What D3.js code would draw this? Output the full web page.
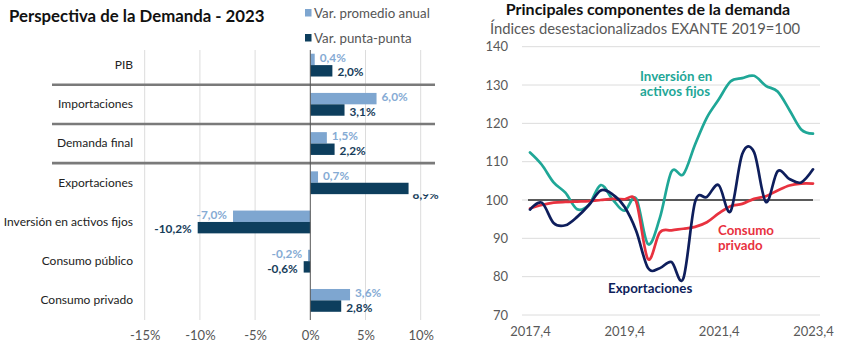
<!DOCTYPE html>
<html><head><meta charset="utf-8">
<script src="https://cdn.jsdelivr.net/npm/d3@7"></script>
<style>
html,body{margin:0;padding:0;background:#fff;}
svg{display:block;font-family:Lato,"Open Sans",sans-serif;}
</style></head>
<body>
<svg id="c" width="848" height="351"></svg>
<script>
// ---------- Left chart data ----------
const barCategories = ["PIB","Importaciones","Demanda final","Exportaciones","Inversión en activos fijos","Consumo  público","Consumo privado"];
const promedioAnual = [0.4, 6.0, 1.5, 0.7, -7.0, -0.2, 3.6];
const puntaPunta    = [2.0, 3.1, 2.2, 8.9, -10.2, -0.6, 2.8];
const barTicks = [-15, -10, -5, 0, 5, 10];
const barSeriesNames = ["Var. promedio anual", "Var. punta-punta"];

// ---------- Right chart data ----------
const quarters = ["2017,4","2018,1","2018,2","2018,3","2018,4","2019,1","2019,2","2019,3","2019,4",
  "2020,1","2020,2","2020,3","2020,4","2021,1","2021,2","2021,3","2021,4",
  "2022,1","2022,2","2022,3","2022,4","2023,1","2023,2","2023,3","2023,4"];
const inversion = [112.4,109.2,104.6,101.9,97.6,98.8,103.9,100.2,97.2,100.4,88.5,95.2,107.4,106.7,114.5,121.5,126.2,130.9,131.8,132.4,129.8,128.3,123.5,118.4,117.3];
const consumoPrivado = [97.8,98.7,99.3,99.5,99.6,99.7,100.0,100.3,100.2,99.6,84.6,91.5,92.1,92.5,93.0,94.2,96.5,98.4,99.0,100.3,101.0,102.5,103.8,104.3,104.3];
const exportaciones = [97.5,99.3,94.0,93.4,95.6,98.7,102.5,101.5,98.3,92.0,82.3,82.2,83.8,79.5,99.5,100.8,103.9,97.0,112.0,112.5,99.5,107.5,105.5,104.6,108.0];
const lineTicks = [70,80,90,100,110,120,130,140];
const xTickLabels = ["2017,4","2019,4","2021,4","2023,4"];

const svg = d3.select("#c");
const loc = d3.formatLocale({decimal: ",", thousands: ".", grouping: [3], currency: ["", ""], minus: "-"});
const fmt1 = loc.format(".1f");

// ================= LEFT CHART =================
const L = svg.append("g");
const lightC = "#7EA6D0", darkC = "#0D3E5D", lightT = "#86ABD4", darkT = "#173D5A";

L.append("text").attr("x", 9).attr("y", 22).text("Perspectiva de la Demanda - 2023")
  .attr("font-size", 16.8).attr("font-weight", "bold").attr("fill", "#111");

// legend
[lightC, darkC].forEach((c, i) => {
  L.append("rect").attr("x", 305).attr("y", 9 + i * 25).attr("width", 6.5).attr("height", 7.5).attr("fill", c);
  L.append("text").attr("x", 314).attr("y", 17.5 + i * 25).text(barSeriesNames[i])
    .attr("font-size", 13.3).attr("fill", "#555");
});

const xB = d3.scaleLinear().domain([-15, 10]).range([144.7, 420.7]);
const yB = d3.scaleBand().domain(barCategories).range([45.5, 320]);
const ySub = d3.scaleBand().domain([0, 1]).range([0, yB.bandwidth()]).paddingOuter(0.72);

// gridlines
const gridTop = 50, gridBot = 320;
L.append("g").selectAll("line").data(barTicks.filter(t => t !== 0)).join("line")
  .attr("x1", d => xB(d)).attr("x2", d => xB(d)).attr("y1", gridTop).attr("y2", gridBot)
  .attr("stroke", "#dcdcdc").attr("stroke-width", 1);

// x axis labels
const xAxis = d3.axisBottom(xB).tickValues(barTicks).tickFormat(d => d + "%").tickSize(0).tickPadding(0);
const gx = L.append("g").attr("transform", `translate(0,331)`).call(xAxis);
gx.select(".domain").remove();
gx.selectAll("text").attr("font-size", 13).attr("fill", "#555").attr("font-family", "Lato,sans-serif").attr("dy", "0.71em");

// separators
barCategories.slice(1, 4).forEach(c => {
  L.append("line").attr("x1", 52).attr("x2", 435).attr("y1", yB(c)).attr("y2", yB(c))
    .attr("stroke", "#7a7a7a").attr("stroke-width", 2.6);
});

// category labels
const yAxis = d3.axisLeft(yB).tickSize(0).tickPadding(0);
const gy = L.append("g").attr("transform", "translate(133,0)").call(yAxis);
gy.select(".domain").remove();
gy.selectAll("text").attr("font-size", 12).attr("fill", "#222").attr("font-family", "Lato,sans-serif");

// bars
const series = [promedioAnual, puntaPunta];
const clip = svg.append("defs").append("clipPath").attr("id", "lblclip");
series.forEach((vals, s) => {
  const g = L.append("g");
  const shift = s === 0 ? -1.5 : 1.5;
  g.selectAll("rect").data(vals).join("rect")
    .attr("x", d => xB(Math.min(0, d)))
    .attr("width", d => Math.abs(xB(d) - xB(0)))
    .attr("y", (d, i) => yB(barCategories[i]) + ySub(s))
    .attr("height", ySub.bandwidth())
    .attr("fill", s === 0 ? lightC : darkC);
  g.selectAll("text").data(vals).join("text")
    .attr("x", d => d >= 0 ? xB(d) + 5 : xB(d) - 6)
    .attr("y", (d, i) => yB(barCategories[i]) + ySub(s) + ySub.bandwidth() / 2 + shift)
    .attr("dy", "0.35em")
    .attr("text-anchor", d => d >= 0 ? "start" : "end")
    .attr("font-size", 11.8).attr("font-weight", "bold")
    .attr("fill", s === 0 ? lightT : darkT)
    .text(d => fmt1(d) + "%")
    .each(function (d, i) {
      // labels that don't fit at the right edge are pushed below and clipped
      if (xB(d) + 30 > 435) {
        const yb = yB(barCategories[i]) + ySub(s) + ySub.bandwidth();
        clip.append("rect").attr("x", 400).attr("y", yb).attr("width", 48).attr("height", 20);
        d3.select(this).attr("x", xB(d) + 4).attr("y", yb + 1).attr("clip-path", "url(#lblclip)");
      }
    });
});

// zero line
L.append("line").attr("x1", xB(0)).attr("x2", xB(0)).attr("y1", gridTop).attr("y2", gridBot)
  .attr("stroke", "#555").attr("stroke-width", 1);

// ================= RIGHT CHART =================
const R = svg.append("g");
R.append("text").attr("x", 648).attr("y", 15).attr("text-anchor", "middle")
  .text("Principales componentes de la demanda").attr("font-size", 16).attr("font-weight", "bold").attr("fill", "#111");
R.append("text").attr("x", 645).attr("y", 33.5).attr("text-anchor", "middle")
  .text("Índices desestacionalizados EXANTE 2019=100").attr("font-size", 14.8).attr("fill", "#595959");

const xL = d3.scalePoint().domain(quarters).range([530, 813]);
const yL = d3.scaleLinear().domain([70, 140]).range([315, 46.7]);

R.append("g").selectAll("line").data(lineTicks).join("line")
  .attr("x1", 522).attr("x2", 820).attr("y1", d => yL(d)).attr("y2", d => yL(d))
  .attr("stroke", "#dcdcdc").attr("stroke-width", 1);

const ayL = d3.axisLeft(yL).tickValues(lineTicks).tickSize(0).tickPadding(0);
const gyl = R.append("g").attr("transform", "translate(508,0)").call(ayL);
gyl.select(".domain").remove();
gyl.selectAll("text").attr("font-size", 13).attr("fill", "#595959").attr("font-family", "Lato,sans-serif");

const axL = d3.axisBottom(xL).tickValues(xTickLabels).tickSize(0).tickPadding(0);
const gxl = R.append("g").attr("transform", "translate(0,327)").call(axL);
gxl.select(".domain").remove();
gxl.selectAll("text").attr("font-size", 13).attr("fill", "#595959").attr("font-family", "Lato,sans-serif").attr("dy", "0.71em");

// 100 reference line
R.append("line").attr("x1", 528).attr("x2", 813).attr("y1", yL(100)).attr("y2", yL(100))
  .attr("stroke", "#5a5a5a").attr("stroke-width", 2);

const line = d3.line().x((d, i) => xL(quarters[i])).y(d => yL(d)).curve(d3.curveCardinal.tension(0));
const teal = "#1FA797", red = "#E8323F", navy = "#0E1E5C";
[[inversion, teal], [consumoPrivado, red], [exportaciones, navy]].forEach(([vals, c]) => {
  R.append("path").datum(vals).attr("d", line).attr("fill", "none")
    .attr("stroke", c).attr("stroke-width", 2.7).attr("stroke-linejoin", "round").attr("stroke-linecap", "round");
});

// series labels
function lbl(lines, x, y, c) {
  lines.forEach((t, i) => R.append("text").attr("x", x).attr("y", y + i * 15).text(t)
    .attr("font-size", 13.3).attr("font-weight", "bold").attr("fill", c));
}
lbl(["Inversión en", "activos fijos"], 640, 81, teal);
lbl(["Consumo", "privado"], 718, 235, red);
lbl(["Exportaciones"], 608, 293, navy);
</script>
</body></html>
